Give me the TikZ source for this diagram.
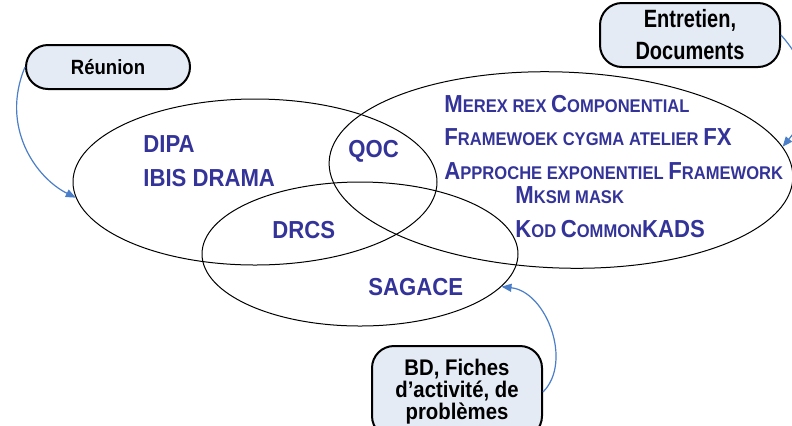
\documentclass[tikz,border=0pt]{standalone}
\usepackage{fontspec}
\setmainfont{Liberation Sans}[FakeStretch=0.9]
\newfontfamily\narrowfont{Liberation Sans}[FakeStretch=0.8]
\usetikzlibrary{arrows.meta,positioning,shapes.geometric}
\definecolor{inkBlue}{HTML}{333399}
\definecolor{boxFill}{HTML}{E4EBF5}
\definecolor{linkBlue}{HTML}{4A7EC8}
\newcommand{\sk}[1]{{\fontsize{9.2}{10}\selectfont #1}}

\begin{document}
\begin{tikzpicture}[x=0.5pt,y=-0.5pt,
    every node/.style={font=\bfseries},
    zone/.style={draw,ellipse,line width=0.5pt,inner sep=0pt},
    source/.style={draw,line width=1pt,rounded corners=11pt,fill=boxFill,align=center,inner sep=0pt},
    tool/.style={anchor=base west,inner sep=0pt,text=inkBlue,font=\fontsize{12.3}{14}\selectfont\bfseries},
    link/.style={linkBlue,line width=0.6pt,-{Triangle[length=5pt,width=4pt]}}]
  \useasboundingbox (0,0) rectangle (792,425);
  % the three fields
  \node[zone,minimum width=182pt,minimum height=83pt] (lft) at (255,182) {};
  \node[zone,minimum width=232pt,minimum height=98pt,rotate=-2] (rgt) at (561,170) {};
  \node[zone,minimum width=158pt,minimum height=72pt] (low) at (360,254) {};
  % tools in each field
  \foreach \n/\x/\y/\t in {%
    dipa/143/152/DIPA,
    ibis/143/186/IBIS DRAMA,
    qoc/348/157/QOC,
    drcs/272/238/DRCS,
    sagace/368/295/SAGACE,
    merex/444/112/M\sk{EREX REX }C\sk{OMPONENTIAL},
    framew/444/145/F\sk{RAMEWOEK CYGMA ATELIER }FX,
    approche/444/179/A\sk{PPROCHE EXPONENTIEL }F\sk{RAMEWORK},
    mksm/515/203/M\sk{KSM MASK},
    kod/515/237/K\sk{OD }C\sk{OMMON}KADS}{%
    \node[tool] (\n) at (\x,\y) {\t};
  }
  % sources
  \node[source,minimum width=82pt,minimum height=22pt,font=\fontsize{10.3}{12}\selectfont\bfseries]
    (reunion) at (108,67) {Réunion};
  \node[source,minimum width=90pt,minimum height=32pt,font=\narrowfont\fontsize{12.5}{16}\selectfont\bfseries]
    (ent) at (690,35) {Entretien,\\Documents};
  \node[source,minimum width=85pt,minimum height=46pt,font=\fontsize{11.3}{11}\selectfont\bfseries]
    (bd) at (457,392) {BD, Fiches\\d’activité, de\\problèmes};
  % links
  \draw[link] (reunion.west) .. controls +(-25,60) and +(-40,-20) .. (lft.185);
  \draw[link] (ent.east) .. controls +(40,45) and +(25,-30) .. (rgt.8);
  \draw[link] (bd.east) .. controls +(30,-30) and +(45,5) .. (low.-13);
\end{tikzpicture}
\end{document}
